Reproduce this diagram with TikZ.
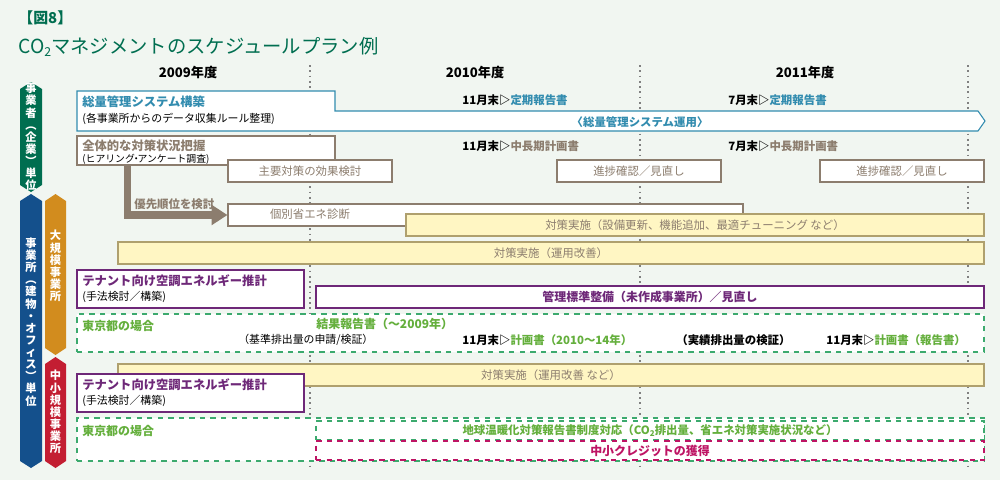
\documentclass[tikz,border=0pt]{standalone}
\usepackage{fontspec}
\setmainfont{Noto Sans CJK JP}
\usetikzlibrary{positioning,fit,calc,arrows.meta}
\definecolor{titlegreen}{RGB}{0,110,80}
\definecolor{sysblue}{RGB}{50,140,175}
\definecolor{planbrown}{RGB}{140,125,110}
\definecolor{tenantpurple}{RGB}{110,40,120}
\definecolor{tokyogreen}{RGB}{100,175,60}
\definecolor{dashgreen}{RGB}{60,170,110}
\definecolor{creditred}{RGB}{190,20,100}
\definecolor{yellowfill}{RGB}{255,246,195}
\definecolor{yellowdraw}{RGB}{175,160,110}
\definecolor{tagblue}{RGB}{20,80,140}
\definecolor{tagorange}{RGB}{210,140,30}
\definecolor{tagred}{RGB}{195,30,50}
\definecolor{bgpale}{RGB}{241,246,241}

\begin{document}
\begin{tikzpicture}[
    x=0.02cm, y=-0.02cm,
    font=\fontsize{6.2}{7}\selectfont,
    box/.style ={
        draw=planbrown,
        fill=white,
        line width=0.6pt,
        inner sep=0pt
    },
    sysbox/.style ={box, draw=sysblue},
    tenant/.style ={box, draw=tenantpurple},
    measure/.style ={box, draw=yellowdraw, fill=yellowfill},
    tokyo/.style ={draw=dashgreen, fill=white, dashed, line width=0.6pt, inner sep=0pt},
    credit/.style ={tokyo, draw=creditred},
    lbl/.style ={anchor=west, inner sep=0pt},
    yr/.style ={font=\fontsize{7.5}{8}\selectfont\bfseries},
    tag/.style ={
        text=white,
        align=center,
        inner sep=0pt,
        font=\fontsize{6.4}{6.9}\selectfont\bfseries
    }
    ]
    % background
    \fill[bgpale] (0,0) rectangle (1000,480);
    \useasboundingbox (0,0) rectangle (1000,480);

    % title
    \node[lbl, text=titlegreen, font=\fontsize{8.5}{9}\selectfont\bfseries] (fig) at (18,18) {【図8】};
    \node[lbl, text=titlegreen, font=\fontsize{11}{12}\selectfont] (title) at (18,47) {CO\raisebox{-0.3ex}{\fontsize{7}{7}\selectfont 2}マネジメントのスケジュールプラン例};

    % years
    \node[yr] (y2009) at (188,72) {2009年度};
    \node[yr] (y2010) at (475,72) {2010年度};
    \node[yr] (y2011) at (805,72) {2011年度};
    \foreach \x in {310,640,968}
        \draw[gray, line width=1.2pt, dash pattern=on 1pt off 2pt] (\x,65) -- (\x,470);

    % side tags
    \foreach \name/\xa/\xb/\ya/\yb/\clr in {corp/20/42/82/192/titlegreen, site/20/42/194/468/tagblue,
                                        large/45/66/194/355/tagorange, small/45/66/357/468/tagred}
        \fill[\clr] (\xa,\ya+7) -- ({(\xa+\xb)/2},\ya) -- (\xb,\ya+7) -- (\xb,\yb-7) -- ({(\xa+\xb)/2},\yb) -- (\xa,\yb-7) -- cycle;
    \node[tag] (corptag) at (31,137) {事\\業\\者\\︵\\企\\業\\︶\\単\\位};
    \node[tag] (sitetag) at (31,322) {事\\業\\所\\︵\\建\\物\\・\\オ\\フ\\ィ\\ス\\︶\\単\\位};
    \node[tag] (largetag) at (55.5,266) {大\\規\\模\\事\\業\\所};
    \node[tag] (smalltag) at (55.5,412) {中\\小\\規\\模\\事\\業\\所};

    % corporate level
    \draw[sysbox] (77,91) -- (335,91) -- (335,111) -- (978,111) -- (985,121) -- (978,131) -- (77,131) -- cycle;
    \node[lbl, text=sysblue, font=\fontsize{7}{8}\selectfont\bfseries] (build) at (82,102) {総量管理システム構築};
    \node[lbl] (buildsub) at (82,119) {(各事業所からのデータ収集ルール整理)};
    \node[text=sysblue, font=\fontsize{6.5}{7}\selectfont\bfseries] (operate) at (640,122) {〈総量管理システム運用〉};
    \node[lbl, font=\fontsize{6.5}{7}\selectfont\bfseries] (rep10) at (462,100) {11月末▷\textcolor{sysblue}{定期報告書}};
    \node[lbl, font=\fontsize{6.5}{7}\selectfont\bfseries] (rep11) at (728,100) {7月末▷\textcolor{sysblue}{定期報告書}};

    \node[box, fit={(77,136)(335,165)}] (grasp) {};
    \node[lbl, text=planbrown, font=\fontsize{7}{8}\selectfont\bfseries] (grasptxt) at (82,146) {全体的な対策状況把握};
    \node[lbl, font=\fontsize{5.6}{6}\selectfont] (graspsub) at (82,159) {(ヒアリング\kern-2pt・\kern-2ptアンケート調査)};
    \node[lbl, font=\fontsize{6.5}{7}\selectfont\bfseries] (plan10) at (462,146) {11月末▷\textcolor{planbrown}{中長期計画書}};
    \node[lbl, font=\fontsize{6.5}{7}\selectfont\bfseries] (plan11) at (728,146) {7月末▷\textcolor{planbrown}{中長期計画書}};
    \foreach \name/\xa/\xb in {effect/228/392, check10/557/721, check11/820/984}
        \node[box, fit={(\xa,160)(\xb,182)}] (\name) {};
    \node[text=planbrown, font=\fontsize{6.5}{7}\selectfont] (effecttxt) at (effect.center) {主要対策の効果検討};
    \node[text=planbrown, font=\fontsize{6.5}{7}\selectfont] (check10txt) at (check10.center) {進捗確認／見直し};
    \node[text=planbrown, font=\fontsize{6.5}{7}\selectfont] (check11txt) at (check11.center) {進捗確認／見直し};

    \node[box, fit={(228,204)(743,226)}] (diag) {};
    \node[text=planbrown, font=\fontsize{6.5}{7}\selectfont] (diagtxt) at (310,214) {個別省エネ診断};
    \draw[planbrown, line width=4pt, -{Triangle[length=9pt,width=11pt]}]
        ($(grasp.south west)+(51,0)$) |- (diag.west);
    \node[lbl, text=planbrown, font=\fontsize{6.5}{7}\selectfont\bfseries] (prio) at (134,204) {優先順位を検討};

    % site level
    \node[measure, fit={(406,214)(984,236)}] (equip) {};
    \node[text=planbrown, font=\fontsize{6.5}{7}\selectfont] (equiptxt) at (equip.center) {対策実施（設備更新、機能追加、最適チューニング など）};
    \node[measure, fit={(118,242)(984,264)}] (opbig) {};
    \node[text=planbrown, font=\fontsize{6.5}{7}\selectfont] (opbigtxt) at (opbig.center) {対策実施（運用改善）};

    \node[tenant, fit={(77,270)(304,308)}] (tenbig) {};
    \node[lbl, text=tenantpurple, font=\fontsize{7}{8}\selectfont\bfseries] (tenbigtxt) at (82,281) {テナント向け空調エネルギー推計};
    \node[lbl] (tenbigsub) at (82,297) {(手法検討／構築)};
    \node[tenant, fit={(316,286)(984,308)}] (std) {};
    \node[text=tenantpurple, font=\fontsize{6.8}{7}\selectfont\bfseries] (stdtxt) at (std.center) {管理標準整備（未作成事業所）／見直し};

    \node[tokyo, fit={(77,314)(984,352)}] (tokyobig) {};
    \node[lbl, text=tokyogreen, font=\fontsize{6.8}{7}\selectfont\bfseries] (tokyobigtxt) at (82,326) {東京都の場合};
    \node[lbl, text=tokyogreen, font=\fontsize{6.8}{7}\selectfont\bfseries] (result) at (316,324) {結果報告書（～2009年）};
    \node[lbl] (base) at (238,340) {（基準排出量の申請/検証）};
    \node[lbl, font=\fontsize{6.5}{7}\selectfont\bfseries] (plan1014) at (462,340) {11月末▷\textcolor{tokyogreen}{計画書（2010～14年）}};
    \node[lbl, font=\fontsize{6.5}{7}\selectfont\bfseries] (actual) at (676,340) {（実績排出量の検証）};
    \node[lbl, font=\fontsize{6.5}{7}\selectfont\bfseries] (planrep) at (826,340) {11月末▷\textcolor{tokyogreen}{計画書（報告書）}};

    \node[measure, fit={(118,364)(984,386)}] (opsmall) {};
    \node[text=planbrown, font=\fontsize{6.5}{7}\selectfont] (opsmalltxt) at (opsmall.center) {対策実施（運用改善 など）};
    \node[tenant, fit={(77,374)(304,412)}] (tensmall) {};
    \node[lbl, text=tenantpurple, font=\fontsize{7}{8}\selectfont\bfseries] (tensmalltxt) at (82,385) {テナント向け空調エネルギー推計};
    \node[lbl] (tensmallsub) at (82,401) {(手法検討／構築)};

    \node[tokyo, fit={(77,418)(984,461)}] (tokyosmall) {};
    \node[lbl, text=tokyogreen, font=\fontsize{6.8}{7}\selectfont\bfseries] (tokyosmalltxt) at (82,431) {東京都の場合};
    \node[tokyo, fit={(316,421)(984,440)}] (warming) {};
    \node[text=tokyogreen, font=\fontsize{6.5}{7}\selectfont\bfseries] (warmingtxt) at (warming.center)
        {地球温暖化対策報告書制度対応（CO\raisebox{-0.3ex}{\fontsize{4.5}{5}\selectfont 2}排出量、省エネ対策実施状況など）};
    \node[credit, fit={(316,441)(984,460)}] (credit) {};
    \node[text=creditred, font=\fontsize{6.8}{7}\selectfont\bfseries] (credittxt) at (credit.center) {中小クレジットの獲得};
\end{tikzpicture}
\end{document}
